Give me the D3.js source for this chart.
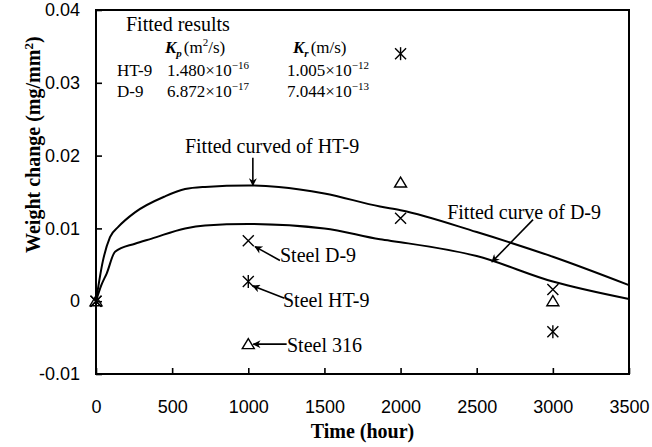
<!DOCTYPE html>
<html>
<head>
<meta charset="utf-8">
<script src="https://cdn.jsdelivr.net/npm/d3@7"></script>
<style>
  html, body { margin: 0; padding: 0; background: #fff; }
  svg { display: block; }
</style>
</head>
<body>
<svg id="chart" width="652" height="447"></svg>
<script>
// Measured weight change of three steels (mg/mm^2) versus exposure time (hour)
const times = [0, 1000, 2000, 3000];
const steelD9 = [0, 0.0083, 0.0114, 0.0016];
const steelHT9 = [0, 0.0027, 0.0340, -0.0042];
const steel316 = [0, -0.0059, 0.0163, 0.0000];

// Paralinear fitted curves, sampled points (time, weight change)
const fitHT9T = [0, 45, 92, 146, 256, 453, 585, 716, 1000, 1200, 1500, 1865, 2000, 2500, 3000, 3500];
const fitHT9V = [0, 0.0055, 0.0088, 0.0102, 0.0122, 0.0144, 0.0154, 0.0157, 0.0159, 0.0157, 0.0148, 0.0130, 0.0125, 0.0095, 0.0061, 0.0022];
const fitD9T = [0, 35, 70, 125, 256, 366, 585, 716, 1000, 1500, 1865, 2000, 2500, 3000, 3500];
const fitD9V = [0, 0.0022, 0.0038, 0.0068, 0.0079, 0.0086, 0.0100, 0.0104, 0.0106, 0.0100, 0.0085, 0.0081, 0.0062, 0.0027, 0.0003];

// Axis ticks
const xTicks = [0, 500, 1000, 1500, 2000, 2500, 3000, 3500];
const yTicks = [-0.01, 0, 0.01, 0.02, 0.03, 0.04];

const svg = d3.select("#chart");
const W = 652, H = 447;
const margin = { left: 96, right: 23, top: 10, bottom: 73 };
const x = d3.scaleLinear().domain([0, 3500]).range([margin.left, W - margin.right]);
const y = d3.scaleLinear().domain([-0.01, 0.04]).range([H - margin.bottom, margin.top]);

const serif = "'Liberation Serif', 'Times New Roman', serif";
const sans = "'Liberation Sans', Arial, sans-serif";

svg.append("defs").append("marker")
  .attr("id", "arrow")
  .attr("viewBox", "0 0 10 10")
  .attr("refX", 9).attr("refY", 5)
  .attr("markerWidth", 10).attr("markerHeight", 8)
  .attr("markerUnits", "userSpaceOnUse")
  .attr("orient", "auto")
  .append("path").attr("d", "M0,0 L10,5 L0,10 L3,5 Z").attr("fill", "#000");

// Axes (inward ticks)
const xAxis = svg.append("g")
  .attr("transform", `translate(0,${y.range()[0]})`)
  .call(d3.axisBottom(x).tickValues(xTicks).tickSize(-6).tickPadding(26).tickFormat(d3.format("d")));
const yAxis = svg.append("g")
  .attr("transform", `translate(${x.range()[0]},0)`)
  .call(d3.axisLeft(y).tickValues(yTicks).tickSize(-6).tickPadding(16)
    .tickFormat(d => d === 0 ? "0" : d.toFixed(2)));
[xAxis, yAxis].forEach(g => {
  g.select(".domain").remove();
  g.selectAll(".tick line").attr("stroke", "#000").attr("stroke-width", 1.6);
  g.selectAll(".tick text").attr("font-family", sans).attr("font-size", 18).attr("fill", "#000");
});

// Plot frame
svg.append("rect")
  .attr("x", x.range()[0]).attr("y", y.range()[1])
  .attr("width", x.range()[1] - x.range()[0])
  .attr("height", y.range()[0] - y.range()[1])
  .attr("fill", "none").attr("stroke", "#000").attr("stroke-width", 2);

// Axis titles
svg.append("text")
  .attr("x", (x.range()[0] + x.range()[1]) / 2).attr("y", 438)
  .attr("text-anchor", "middle")
  .attr("font-family", serif).attr("font-weight", "bold").attr("font-size", 20)
  .text("Time (hour)");
const yt = svg.append("text")
  .attr("transform", `translate(40,${y(0.0215)}) rotate(-90)`)
  .attr("text-anchor", "middle")
  .attr("font-family", serif).attr("font-weight", "bold").attr("font-size", 20);
yt.append("tspan").text("Weight change (mg/mm");
yt.append("tspan").attr("font-size", 13).attr("dy", -7).text("2");
yt.append("tspan").attr("dy", 7).text(")");

// Fitted curves
const line = d3.line().x(d => x(d[0])).y(d => y(d[1])).curve(d3.curveMonotoneX);
[[fitHT9T, fitHT9V], [fitD9T, fitD9V]].forEach(([t, v]) => {
  svg.append("path")
    .datum(t.map((ti, i) => [ti, v[i]]))
    .attr("d", line)
    .attr("fill", "none").attr("stroke", "#000").attr("stroke-width", 2);
});

// Markers
const r = 5.5;
function cross(g) {
  g.append("path").attr("d", `M${-r},${-r}L${r},${r}M${-r},${r}L${r},${-r}`);
}
function asterisk(g) {
  cross(g);
  g.append("path").attr("d", `M0,${-r - 1}L0,${r + 1}`);
}
function triangle(g) {
  g.append("path").attr("d", `M0,${-r}L${r + 0.5},${r - 1}L${-r - 0.5},${r - 1}Z`);
}
const seriesList = [[steel316, triangle], [steelD9, cross], [steelHT9, asterisk]];
seriesList.forEach(([vals, shape]) => {
  vals.forEach((v, i) => {
    const g = svg.append("g")
      .attr("transform", `translate(${x(times[i])},${y(v)})`)
      .attr("fill", "none").attr("stroke", "#000").attr("stroke-width", 1.4);
    shape(g);
  });
});

// Annotations: label position and arrow target in data units
const annotations = [
  { text: "Fitted curved of HT-9", tx: 1156, ty: 0.0213, anchor: "middle",
    from: [1030, 0.0197], to: [1030, fitHT9V[8]] },
  { text: "Fitted curve of D-9", tx: 2811, ty: 0.0122, anchor: "middle",
    from: [2870, 0.0112], to: [2600, 0.0054] },
  { text: "Steel D-9", tx: 1208, ty: 0.0063, anchor: "start",
    from: [1208, 0.0056], to: [1044, 0.0075] },
  { text: "Steel HT-9", tx: 1228, ty: 0.0001, anchor: "start",
    from: [1238, 0.0004], to: [1029, 0.0021] },
  { text: "Steel 316", tx: 1254, ty: -0.006, anchor: "start",
    from: [1252, -0.0059], to: [1033, -0.0059] }
];
annotations.forEach(a => {
  svg.append("line")
    .attr("x1", x(a.from[0])).attr("y1", y(a.from[1]))
    .attr("x2", x(a.to[0])).attr("y2", y(a.to[1]))
    .attr("stroke", "#000").attr("stroke-width", 1.6)
    .attr("marker-end", "url(#arrow)");
  svg.append("text")
    .attr("x", x(a.tx)).attr("y", y(a.ty))
    .attr("dy", "0.35em")
    .attr("text-anchor", a.anchor)
    .attr("font-family", serif).attr("font-size", 20)
    .text(a.text);
});

// Fitted parameters table
const rateHeads = [["p", "(m", "2", "/s)"], ["r", "(m/s)", null, null]];
const tableRows = [
  ["HT-9", ["1.480", "\u221216"], ["1.005", "\u221212"]],
  ["D-9", ["6.872", "\u221217"], ["7.044", "\u221213"]]
];
const tbl = svg.append("g").attr("font-family", serif).attr("fill", "#000");
tbl.append("text").attr("x", 126).attr("y", 31).attr("font-size", 20).text("Fitted results");
const headX = [165, 293];
const valX = [167, 287];
rateHeads.forEach((h, i) => {
  const t = tbl.append("text").attr("x", headX[i]).attr("y", 53).attr("font-size", 17);
  t.append("tspan").attr("font-weight", "bold").attr("font-style", "italic").text("K");
  t.append("tspan").attr("font-size", 11).attr("font-style", "italic").attr("font-weight", "bold").attr("dy", 4).text(h[0]);
  t.append("tspan").attr("dy", -4).attr("dx", 2).text(h[1]);
  if (h[2]) {
    t.append("tspan").attr("font-size", 11).attr("dy", -7).text(h[2]);
    t.append("tspan").attr("dy", 7).text(h[3]);
  }
});
tableRows.forEach((row, j) => {
  const yy = 76 + j * 21;
  tbl.append("text").attr("x", 117).attr("y", yy).attr("font-size", 17).text(row[0]);
  [row[1], row[2]].forEach((cell, i) => {
    const t = tbl.append("text").attr("x", valX[i]).attr("y", yy).attr("font-size", 17);
    t.append("tspan").text(cell[0] + "\u00d710");
    t.append("tspan").attr("font-size", 11).attr("dy", -7).text(cell[1]);
  });
});
</script>
</body>
</html>
